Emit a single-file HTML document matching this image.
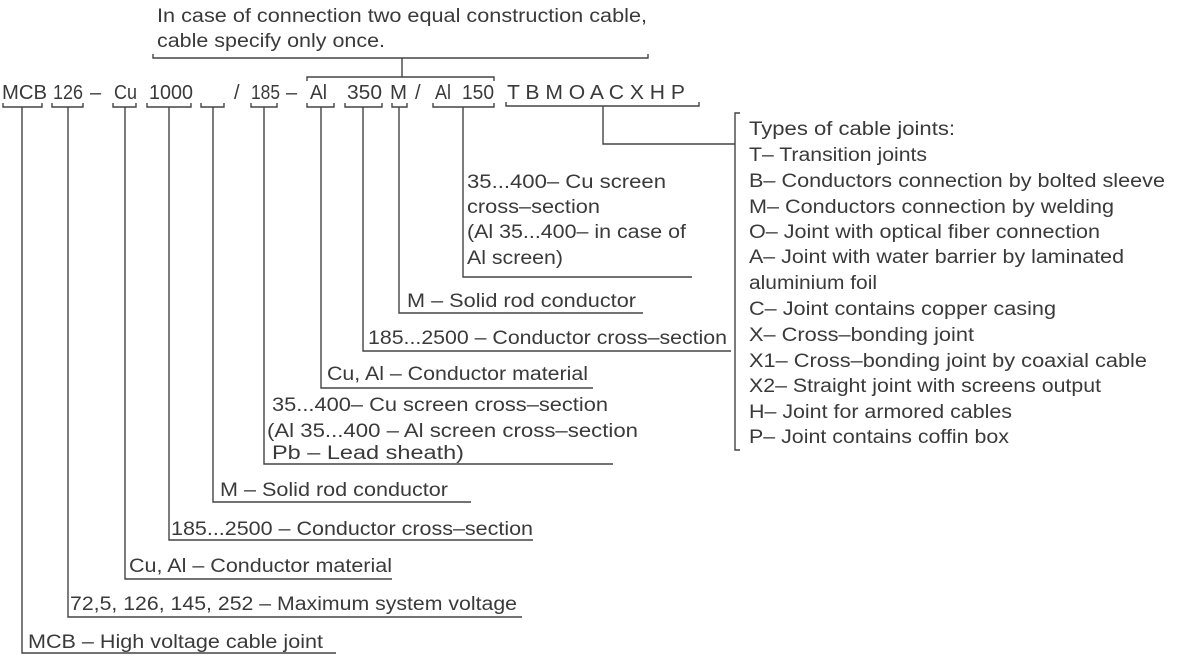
<!DOCTYPE html>
<html><head><meta charset="utf-8"><style>
html,body{margin:0;padding:0;background:#fff;}
svg{display:block;}
text{font-family:"Liberation Sans",Arial,sans-serif;fill:#3a3a3a;}
</style></head><body>
<svg width="1181" height="663" viewBox="0 0 1181 663" xmlns="http://www.w3.org/2000/svg">
<g stroke="#444" stroke-width="1.4" fill="none">
<polyline points="153,54 153,58 648,58 648,54"/>
<line x1="402" y1="58" x2="402" y2="77"/>
<polyline points="307,81 307,77 494,77 494,81"/>
<polyline points="3,103 3,107 42,107 42,103"/>
<polyline points="52,103 52,107 83,107 83,103"/>
<polyline points="113,103 113,107 136,107 136,103"/>
<polyline points="147,103 147,107 191,107 191,103"/>
<polyline points="201,103 201,107 224,107 224,103"/>
<polyline points="251,103 251,107 277,107 277,103"/>
<polyline points="307,103 307,107 334,107 334,103"/>
<polyline points="345,103 345,107 382,107 382,103"/>
<polyline points="392,103 392,107 407,107 407,103"/>
<polyline points="433,103 433,107 494,107 494,103"/>
<polyline points="506,102 506,106 699,106 699,102"/>
<polyline points="22,107 22,653 336,653"/>
<polyline points="68,107 68,617 522,617"/>
<polyline points="125,107 125,579 392,579"/>
<polyline points="169,107 169,540 533,540"/>
<polyline points="213,107 213,502 471,502"/>
<polyline points="264,107 264,464 613,464"/>
<polyline points="321,107 321,388 593,388"/>
<polyline points="363,107 363,351 731,351"/>
<polyline points="399,107 399,313 643,313"/>
<polyline points="463,107 463,277 692,277"/>
<polyline points="603,106 603,144 735,144"/>
<polyline points="740,113 735,113 735,450 740,450"/>
</g>

<g font-size="19">
<text x="157" y="22" textLength="490" lengthAdjust="spacingAndGlyphs">In case of connection  two equal construction cable,</text>
<text x="157" y="47" textLength="228" lengthAdjust="spacingAndGlyphs">cable specify only once.</text>
</g>

<g font-size="20">
<text x="2" y="99" textLength="45" lengthAdjust="spacingAndGlyphs">MCB</text>
<text x="53" y="99" textLength="30" lengthAdjust="spacingAndGlyphs">126</text>
<text x="90" y="99">–</text>
<text x="114" y="99" textLength="23" lengthAdjust="spacingAndGlyphs">Cu</text>
<text x="149" y="99" textLength="44" lengthAdjust="spacingAndGlyphs">1000</text>
<text x="234" y="99">/</text>
<text x="251" y="99" textLength="29" lengthAdjust="spacingAndGlyphs">185</text>
<text x="286" y="99">–</text>
<text x="310" y="99" textLength="17" lengthAdjust="spacingAndGlyphs">Al</text>
<text x="347" y="99" textLength="35" lengthAdjust="spacingAndGlyphs">350</text>
<text x="390" y="99" textLength="17" lengthAdjust="spacingAndGlyphs">M</text>
<text x="415" y="99">/</text>
<text x="435" y="99" textLength="16" lengthAdjust="spacingAndGlyphs">Al</text>
<text x="462" y="99" textLength="32" lengthAdjust="spacingAndGlyphs">150</text>
<text x="507" y="99" textLength="178" lengthAdjust="spacingAndGlyphs">T B M O A C X H P</text>
</g>

<g font-size="19">
<text x="467" y="188" textLength="199" lengthAdjust="spacingAndGlyphs">35...400–  Cu screen</text>
<text x="467" y="213" textLength="133" lengthAdjust="spacingAndGlyphs">cross–section</text>
<text x="467" y="238" textLength="219" lengthAdjust="spacingAndGlyphs">(Al 35...400– in case of</text>
<text x="467" y="264" textLength="96" lengthAdjust="spacingAndGlyphs">Al screen)</text>
<text x="407" y="307" textLength="229" lengthAdjust="spacingAndGlyphs">M – Solid rod conductor</text>
<text x="368" y="344" textLength="359" lengthAdjust="spacingAndGlyphs">185...2500 – Conductor cross–section</text>
<text x="327" y="380" textLength="261" lengthAdjust="spacingAndGlyphs">Cu, Al – Conductor material</text>
<text x="272" y="411" textLength="336" lengthAdjust="spacingAndGlyphs">35...400–  Cu screen cross–section</text>
<text x="267" y="437" textLength="371" lengthAdjust="spacingAndGlyphs">(Al 35...400 –  Al screen cross–section</text>
<text x="272" y="459" textLength="192" lengthAdjust="spacingAndGlyphs">Pb – Lead sheath)</text>
<text x="220" y="496" textLength="228" lengthAdjust="spacingAndGlyphs">M – Solid rod conductor</text>
<text x="171" y="535" textLength="362" lengthAdjust="spacingAndGlyphs">185...2500 – Conductor cross–section</text>
<text x="129" y="572" textLength="263" lengthAdjust="spacingAndGlyphs">Cu, Al – Conductor material</text>
<text x="70" y="610" textLength="447" lengthAdjust="spacingAndGlyphs">72,5, 126, 145, 252 – Maximum system voltage</text>
<text x="28" y="648" textLength="295" lengthAdjust="spacingAndGlyphs">MCB – High voltage cable joint</text>
</g>

<g font-size="19">
<text x="749" y="135" textLength="206" lengthAdjust="spacingAndGlyphs">Types of cable  joints:</text>
<text x="749" y="161" textLength="178" lengthAdjust="spacingAndGlyphs">T– Transition joints</text>
<text x="749" y="187" textLength="416" lengthAdjust="spacingAndGlyphs">B– Conductors connection by bolted sleeve</text>
<text x="749" y="213" textLength="365" lengthAdjust="spacingAndGlyphs">M– Conductors connection by welding</text>
<text x="749" y="238" textLength="351" lengthAdjust="spacingAndGlyphs">O– Joint with optical fiber connection</text>
<text x="749" y="263" textLength="375" lengthAdjust="spacingAndGlyphs">A– Joint with water barrier by laminated</text>
<text x="749" y="289" textLength="128" lengthAdjust="spacingAndGlyphs">aluminium foil</text>
<text x="749" y="315" textLength="307" lengthAdjust="spacingAndGlyphs">C– Joint contains copper casing</text>
<text x="749" y="341" textLength="225" lengthAdjust="spacingAndGlyphs">X– Cross–bonding joint</text>
<text x="749" y="367" textLength="398" lengthAdjust="spacingAndGlyphs">X1– Cross–bonding joint by coaxial cable</text>
<text x="749" y="392" textLength="352" lengthAdjust="spacingAndGlyphs">X2– Straight joint with screens output</text>
<text x="749" y="418" textLength="263" lengthAdjust="spacingAndGlyphs">H– Joint for armored cables</text>
<text x="749" y="443" textLength="260" lengthAdjust="spacingAndGlyphs">P– Joint contains coffin box</text>
</g>
</svg>
</body></html>
